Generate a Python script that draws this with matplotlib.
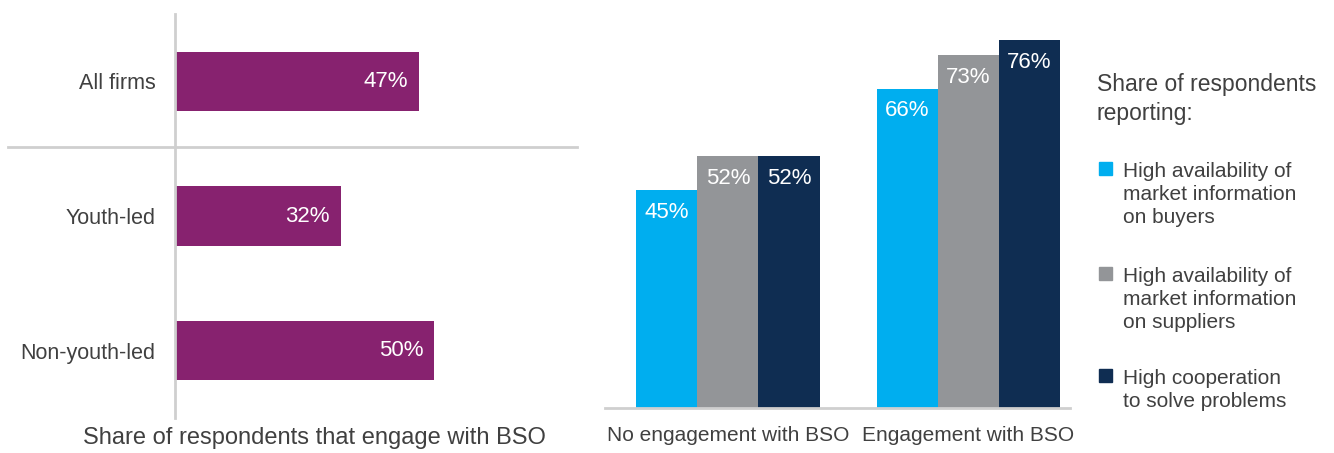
import matplotlib.pyplot as plt
from matplotlib.patches import Rectangle

plt.rcParams['font.family'] = ['Liberation Sans', 'DejaVu Sans']

# left panel: share of respondents that engage with BSO
firm_groups = ['All firms', 'Youth-led', 'Non-youth-led']
engage_share = [47, 32, 50]

# right panel: outcomes by BSO engagement
engagement = ['No engagement with BSO', 'Engagement with BSO']
series_labels = ['High availability of\nmarket information\non buyers',
                 'High availability of\nmarket information\non suppliers',
                 'High cooperation\nto solve problems']
buyers_info = [45, 66]
suppliers_info = [52, 73]
cooperation = [52, 76]

purple = '#87226f'
colors = ['#00aeef', '#939598', '#0f2d52']
text_col = '#404040'
line_col = '#cfcfcf'

W, H = 1334, 453
fig = plt.figure(figsize=(W / 100, H / 100), dpi=100)


def fx(x):
    return x / W


def fy(y):
    return 1 - y / H


# ---- left horizontal bars
ax1 = fig.add_axes([fx(175), fy(418), (577 - 175) / W, 404 / H])
ypos = range(len(firm_groups))
ax1.barh(ypos, engage_share, height=0.44, color=purple)
for i, v in enumerate(engage_share):
    ax1.annotate(f'{v}%', (v, i), xytext=(-8, 0), textcoords='offset points',
                 ha='right', va='center', color='white', fontsize=16)
ax1.set_xlim(0, 77.5)
ax1.set_ylim(2.5, -0.5)
ax1.set_yticks(list(ypos))
ax1.set_yticklabels(firm_groups, fontsize=15.5, color=text_col)
ax1.set_xticks([])
ax1.tick_params(axis='y', length=0, pad=14)
for s in ['top', 'right', 'bottom']:
    ax1.spines[s].set_visible(False)
ax1.spines['left'].set_color(line_col)
ax1.spines['left'].set_linewidth(2)
ax1.axhline(0.49, xmin=(8 - 175) / 402, xmax=1, color=line_col, lw=2, clip_on=False)
fig.text(fx(314), fy(438), 'Share of respondents that engage with BSO',
         ha='center', va='center', fontsize=17, color=text_col)

# ---- right grouped columns
ax2 = fig.add_axes([fx(605), fy(408), 465 / W, 387 / H])
bw = 0.254
groups = [buyers_info, suppliers_info, cooperation]
for k, vals in enumerate(groups):
    xs = [g + (k - 1) * bw for g in range(len(engagement))]
    ax2.bar(xs, vals, width=bw, color=colors[k])
    for x, v in zip(xs, vals):
        ax2.annotate(f'{v}%', (x, v), xytext=(0, -16), textcoords='offset points',
                     ha='center', va='center', color='white', fontsize=16)
ax2.set_xlim(-0.511, 1.422)
ax2.set_ylim(0, 80)
ax2.set_yticks([])
ax2.set_xticks(range(len(engagement)))
ax2.set_xticklabels(engagement, fontsize=15, color=text_col)
ax2.tick_params(axis='x', length=0, pad=13)
for s in ['top', 'right', 'left']:
    ax2.spines[s].set_visible(False)
ax2.spines['bottom'].set_color(line_col)
ax2.spines['bottom'].set_linewidth(2)

# ---- legend drawn beside the columns
fig.text(fx(1097), fy(99), 'Share of respondents\nreporting:', ha='left', va='center',
         fontsize=16.5, color=text_col, linespacing=1.3)
item_tops = [162, 267, 369]
for top, lab, c in zip(item_tops, series_labels, colors):
    fig.add_artist(Rectangle((fx(1099), fy(top + 13)), 13 / W, 13 / H,
                             transform=fig.transFigure, color=c))
    fig.text(fx(1123), fy(top), lab, ha='left', va='top', fontsize=15,
             color=text_col, linespacing=1.28)

fig.savefig('out.png', dpi=100)
